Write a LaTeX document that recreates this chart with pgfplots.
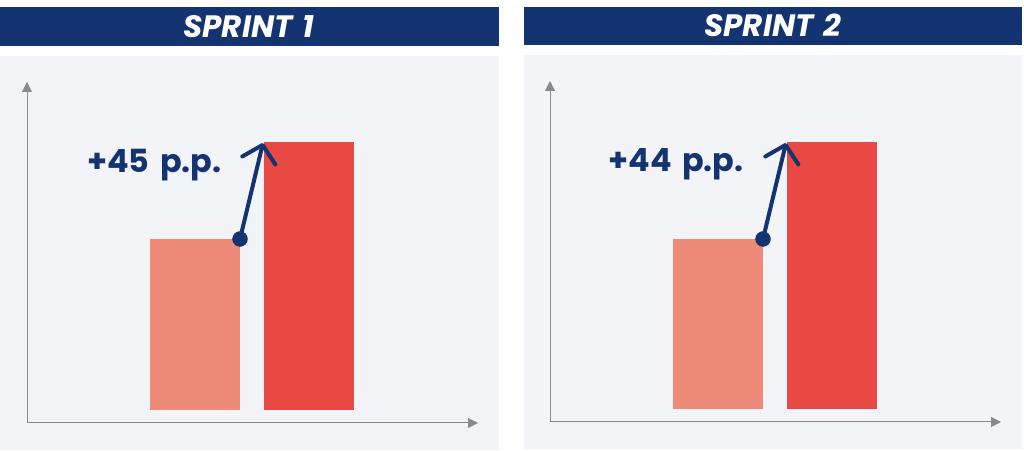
\documentclass[border=0pt]{standalone}
\usepackage{pgfplots}
\pgfplotsset{compat=1.18}
\usepackage{fontspec}
\setmainfont{Poppins}
\usetikzlibrary{arrows.meta}

\definecolor{navy}{HTML}{133371}
\definecolor{panelbg}{HTML}{F3F4F8}
\definecolor{barlight}{HTML}{EE8A78}
\definecolor{bardark}{HTML}{E84A43}
\definecolor{axisgray}{HTML}{8A8A8A}

\pgfplotsset{
  sprint/.style={
    scale only axis, width=451bp, height=341bp,
    xmin=-1.480, xmax=2.493, ymin=-13, ymax=328,
    axis x line*=bottom, axis y line*=left,
    axis line style={draw=axisgray, line width=1bp, -{Triangle[length=10bp,width=10bp]}},
    xtick=\empty, ytick=\empty,
    clip=false,
  },
  gain/.style={draw=navy, line width=4bp, line cap=round,
    -{Straight Barb[length=16bp,width=34bp,round]}},
}

\begin{document}
\begin{tikzpicture}[x=1bp,y=1bp]
\useasboundingbox (0,0) rectangle (1024,451);
\fill[white] (0,0) rectangle (1024,451);
% panels
\fill[panelbg] (0,1) rectangle (499,395);
\fill[panelbg] (524,2) rectangle (1022,396);
\fill[navy] (0,405) rectangle (499,444);
\fill[navy] (524,406) rectangle (1022,444);
\node[anchor=base, text=white, font=\fontsize{31}{32}\selectfont\bfseries\itshape] at (249,413) {SPRINT\,\,1};
\node[anchor=base, text=white, font=\fontsize{31}{32}\selectfont\bfseries\itshape] at (773,414) {SPRINT\,\,2};

% Sprint 1
\begin{axis}[sprint, at={(27bp,28bp)}, anchor=south west]
\addplot[ybar, bar width=90bp, fill=barlight, draw=none] coordinates {(0,171)};
\addplot[ybar, bar width=90bp, fill=bardark, draw=none] coordinates {(1,268)};
\addplot[gain] coordinates {(0.3965,171) (0.599,267)};
\addplot[only marks, mark=*, mark size=7.5bp, navy] coordinates {(0.3965,171)};
\node[anchor=base, text=navy, font=\fontsize{32}{33}\selectfont\bfseries] at (axis cs:-0.357,237) {+45\,\,p.p.};
\end{axis}

% Sprint 2
\begin{axis}[sprint, at={(550bp,29bp)}, anchor=south west]
\addplot[ybar, bar width=90bp, fill=barlight, draw=none] coordinates {(0,170)};
\addplot[ybar, bar width=90bp, fill=bardark, draw=none] coordinates {(1,267)};
\addplot[gain] coordinates {(0.3965,170) (0.599,266)};
\addplot[only marks, mark=*, mark size=7.5bp, navy] coordinates {(0.3965,170)};
\node[anchor=base, text=navy, font=\fontsize{32}{33}\selectfont\bfseries] at (axis cs:-0.370,237) {+44\,\,p.p.};
\end{axis}
\end{tikzpicture}
\end{document}
